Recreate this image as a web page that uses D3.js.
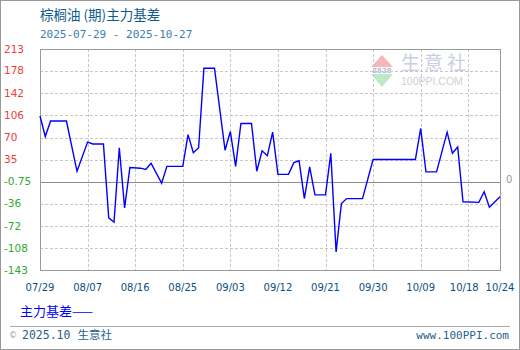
<!DOCTYPE html>
<html>
<head>
<meta charset="utf-8">
<script src="https://cdn.jsdelivr.net/npm/d3@7"></script>
<style>
  body { margin: 0; background: #fff; }
  svg { display: block; }
</style>
</head>
<body>
<div id="chart-area"></div>
<script>
// chart values
var dates = ["2025-07-29","2025-07-30","2025-07-31","2025-08-03","2025-08-05","2025-08-07","2025-08-08",
    "2025-08-10","2025-08-11","2025-08-12","2025-08-13","2025-08-14","2025-08-15","2025-08-17","2025-08-18",
    "2025-08-19","2025-08-21","2025-08-22","2025-08-25","2025-08-26","2025-08-27","2025-08-28","2025-08-29",
    "2025-08-31","2025-09-02","2025-09-03","2025-09-04","2025-09-05","2025-09-07","2025-09-08","2025-09-09",
    "2025-09-10","2025-09-11","2025-09-12","2025-09-14","2025-09-15","2025-09-16","2025-09-17","2025-09-18",
    "2025-09-19","2025-09-21","2025-09-22","2025-09-23","2025-09-24","2025-09-25","2025-09-28","2025-09-30",
    "2025-10-08","2025-10-09","2025-10-10","2025-10-12","2025-10-14","2025-10-15","2025-10-16","2025-10-17",
    "2025-10-20","2025-10-21","2025-10-22","2025-10-24"];
var basis = [105, 72, 97, 97, 16, 63, 60,
    60, -59, -66, 54, -43, 22, 21, 19,
    29, -3, 24, 24, 75, 46, 54, 182,
    182, 50, 80, 24, 93, 93, 16, 49,
    41, 79, 11, 11, 30, 33, -28, 23,
    -22, -22, 45, -114, -36, -28, -28, 35,
    35, 85, 15, 15, 79, 45, 55, -33,
    -34, -17, -42, -25];
var yTicks = [213, 178, 142, 106, 70, 35, -0.75, -36, -72, -108, -143];
var xTicks = ["2025-07-29","2025-08-07","2025-08-16","2025-08-25","2025-09-03","2025-09-12",
    "2025-09-21","2025-09-30","2025-10-09","2025-10-18","2025-10-24"];

var width = 520, height = 350;
var plotLeft = 40, plotRight = 500, plotTop = 49, plotBottom = 270;

var parse = d3.timeParse("%Y-%m-%d");
var fmt = d3.timeFormat("%m/%d");

var data = dates.map(function(d, i) {
    return { date: parse(d), value: basis[i] };
});

var svg = d3.select("#chart-area").append("svg")
    .attr("width", width)
    .attr("height", height);

// outer border
svg.append("rect")
    .attr("x", 0.5).attr("y", 0.5)
    .attr("width", width - 1).attr("height", height - 1)
    .attr("fill", "#fff")
    .attr("stroke", "#9a9a9a");

var x = d3.scaleTime()
    .domain([parse(xTicks[0]), parse(xTicks[xTicks.length - 1])])
    .range([plotLeft, plotRight]);

var y = d3.scaleLinear()
    .domain([-143, 213])
    .range([plotBottom, plotTop]);

// title
svg.append("text")
    .attr("x", 40).attr("y", 20)
    .attr("fill", "#0f5a8c")
    .style("font-family", "'Noto Sans CJK SC', sans-serif")
    .style("font-size", "13.5px")
    .text("棕榈油 (期)主力基差");

svg.append("text")
    .attr("x", 40).attr("y", 38)
    .attr("fill", "#3f7db0")
    .style("font-family", "'DejaVu Sans Mono', monospace")
    .style("font-size", "11px")
    .text("2025-07-29 - 2025-10-27");

// watermark
var wm = svg.append("g");
wm.append("path")
    .attr("d", "M382,55 L393,67 L371,67 Z")
    .attr("fill", "#f4b8b8");
wm.append("path")
    .attr("d", "M371,74 L393,74 L382,87 Z")
    .attr("fill", "#bfe8c6");
wm.append("text")
    .attr("x", 382).attr("y", 73)
    .attr("text-anchor", "middle")
    .attr("fill", "#b8bfd6")
    .style("font-family", "'DejaVu Sans', sans-serif")
    .style("font-size", "7px")
    .style("font-weight", "bold")
    .text("2828");
wm.append("text")
    .attr("x", 401).attr("y", 70)
    .attr("fill", "#c9cfe2")
    .attr("letter-spacing", "4px")
    .style("font-family", "'Noto Sans CJK SC', sans-serif")
    .style("font-size", "19px")
    .text("生意社");
wm.append("text")
    .attr("x", 401).attr("y", 85)
    .attr("fill", "#d0d0d0")
    .style("font-family", "'Liberation Sans', sans-serif")
    .style("font-size", "10.5px")
    .text("100PPI.COM");

// grid
svg.append("g").selectAll("line")
    .data(yTicks)
    .enter()
    .append("line")
    .attr("x1", plotLeft).attr("x2", plotRight)
    .attr("y1", function(d) { return Math.round(y(d)) + 0.5; })
    .attr("y2", function(d) { return Math.round(y(d)) + 0.5; })
    .attr("stroke", function(d) { return d === -0.75 ? "#8c8c8c" : "#c8c8c8"; })
    .attr("stroke-dasharray", function(d) { return d === -0.75 ? null : "3,2"; });

svg.append("g").selectAll("line")
    .data(xTicks.slice(1, -1))
    .enter()
    .append("line")
    .attr("y1", plotTop).attr("y2", plotBottom)
    .attr("x1", function(d) { return Math.round(x(parse(d))) + 0.5; })
    .attr("x2", function(d) { return Math.round(x(parse(d))) + 0.5; })
    .attr("stroke", "#c8c8c8")
    .attr("stroke-dasharray", "3,2");

// frame
svg.append("rect")
    .attr("x", plotLeft + 0.5).attr("y", plotTop + 0.5)
    .attr("width", plotRight - plotLeft).attr("height", plotBottom - plotTop)
    .attr("fill", "none")
    .attr("stroke", "#9a9a9a");

// y labels
svg.append("g").selectAll("text")
    .data(yTicks)
    .enter()
    .append("text")
    .attr("x", 4)
    .attr("y", function(d) { return y(d); })
    .attr("dy", "0.35em")
    .attr("fill", function(d) { return d > 0 ? "#f03c3c" : "#2fa82f"; })
    .style("font-family", "'DejaVu Sans', sans-serif")
    .style("font-size", "10.5px")
    .text(function(d) { return d; });

svg.append("text")
    .attr("x", 506).attr("y", y(-0.75) - 2)
    .attr("dy", "0.35em")
    .attr("fill", "#999")
    .style("font-family", "'DejaVu Sans', sans-serif")
    .style("font-size", "10px")
    .text("0");

// x labels
svg.append("g").selectAll("text")
    .data(xTicks)
    .enter()
    .append("text")
    .attr("x", function(d, i) { return x(parse(d)) + (i === xTicks.length - 2 ? -4 : 0); })
    .attr("y", 291)
    .attr("text-anchor", "middle")
    .attr("fill", "#0b4f80")
    .style("font-family", "'DejaVu Sans', sans-serif")
    .style("font-size", "10px")
    .text(function(d) { return fmt(parse(d)); });

// basis line
var line = d3.line()
    .x(function(d) { return x(d.date); })
    .y(function(d) { return y(d.value); });

svg.append("path")
    .datum(data)
    .attr("d", line)
    .attr("fill", "none")
    .attr("stroke", "#0000ff")
    .attr("stroke-width", 1.4);

// legend
var legend = svg.append("text")
    .attr("x", 20).attr("y", 316)
    .attr("fill", "#0000ff")
    .style("font-family", "'Noto Sans CJK SC', sans-serif")
    .style("font-size", "13px");
legend.append("tspan").text("主力基差");
legend.append("tspan")
    .attr("textLength", 21)
    .attr("lengthAdjust", "spacingAndGlyphs")
    .text("——");

// footer
svg.append("line")
    .attr("x1", 10).attr("x2", 510)
    .attr("y1", 326.5).attr("y2", 326.5)
    .attr("stroke", "#aaa");

svg.append("text")
    .attr("x", 9).attr("y", 338)
    .attr("fill", "#8aa0b8")
    .style("font-family", "'DejaVu Sans', sans-serif")
    .style("font-size", "8px")
    .text("©");

svg.append("text")
    .attr("x", 22).attr("y", 339)
    .attr("fill", "#2a5f8a")
    .style("font-family", "'DejaVu Sans Mono', 'Noto Sans CJK SC', monospace")
    .style("font-size", "11.5px")
    .text("2025.10 生意社");

svg.append("text")
    .attr("x", 509).attr("y", 339)
    .attr("text-anchor", "end")
    .attr("fill", "#2a5f8a")
    .style("font-family", "'DejaVu Sans Mono', monospace")
    .style("font-size", "11px")
    .text("www.100PPI.com");
</script>
</body>
</html>
